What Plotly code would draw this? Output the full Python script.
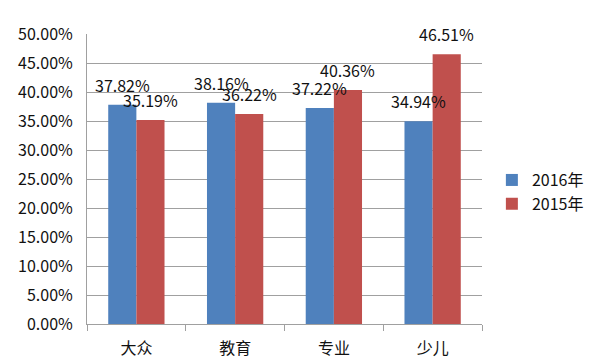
import plotly.graph_objects as go

categories = ["大众", "教育", "专业", "少儿"]
series_names = ["2016年", "2015年"]
values_2016 = [0.3782, 0.3816, 0.3722, 0.3494]
values_2015 = [0.3519, 0.3622, 0.4036, 0.4651]
colors = ["#4F81BD", "#C0504D"]

FONT = "Noto Sans CJK SC, Liberation Sans, sans-serif"

fig = go.Figure()
for name, vals, col in zip(series_names, [values_2016, values_2015], colors):
    fig.add_trace(go.Bar(x=categories, y=vals, name=name, marker_color=col,
                         marker_line_width=0))

annotations = []
for vals, xs in [(values_2016, -14), (values_2015, 14)]:
    for c, v in zip(categories, vals):
        annotations.append(dict(x=c, y=v, xref="x", yref="y", text=f"{v*100:.2f}%",
                                showarrow=False, xshift=xs, yshift=20, yanchor="middle",
                                font=dict(size=16, color="#111111", family=FONT)))

fig.update_layout(
    width=592, height=355,
    margin=dict(l=79, r=118, t=26, b=39, autoexpand=False),
    plot_bgcolor="white", paper_bgcolor="white",
    barmode="group", bargap=0.43, bargroupgap=0,
    font=dict(family=FONT, size=16, color="#111111"),
    annotations=annotations,
    legend=dict(x=1.025, y=0.455, xanchor="left", yanchor="middle",
                font=dict(size=16, family=FONT), itemwidth=30, tracegroupgap=0),
    showlegend=True,
)
fig.update_yaxes(range=[0, 0.5], dtick=0.05, tickformat=".2%", showgrid=True,
                 gridcolor="#A0A0A0", gridwidth=1, showline=True, linecolor="#A0A0A0",
                 ticks="", zeroline=False, tickfont=dict(size=16), ticklabelstandoff=10,
                 automargin=False)
fig.update_xaxes(showline=True, linecolor="#A0A0A0", ticks="outside", tickson="boundaries",
                 ticklen=6, tickcolor="#A0A0A0", tickfont=dict(size=16), ticklabelstandoff=10,
                 automargin=False)

fig.write_html("out.html")
